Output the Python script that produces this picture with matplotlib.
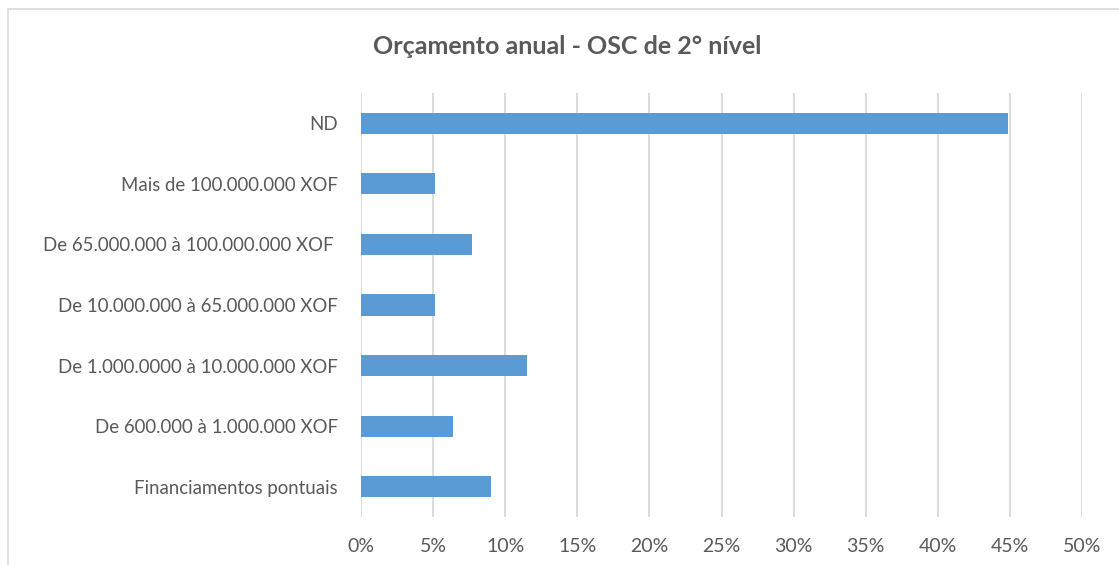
import matplotlib.pyplot as plt
from matplotlib.patches import Rectangle

categories = [
    "Financiamentos pontuais",
    "De 600.000 à 1.000.000 XOF",
    "De 1.000.0000 à 10.000.000 XOF",
    "De 10.000.000 à 65.000.000 XOF",
    "De 65.000.000 à 100.000.000 XOF ",
    "Mais de 100.000.000 XOF",
    "ND",
]
values = [9.0, 6.4, 11.5, 5.1, 7.7, 5.1, 44.9]
ticks = [0, 5, 10, 15, 20, 25, 30, 35, 40, 45, 50]
tick_labels = [f"{t}%" for t in ticks]

plt.rcParams["font.family"] = ["Lato", "DejaVu Sans"]
text_color = "#595959"
grid_color = "#d9d9d9"

fig = plt.figure(figsize=(11.19, 5.65), dpi=100)
ax = fig.add_axes([361 / 1119, 1 - 517 / 565, (1082 - 361) / 1119, (517 - 93) / 565])

# chart border (cropped on right and bottom)
fig.patches.append(Rectangle((8 / 1119, -0.5), 2.0, 1.5 - 9 / 565,
                             transform=fig.transFigure, fill=False,
                             edgecolor=grid_color, linewidth=1.2))

ax.barh(range(len(categories)), values, height=0.35, color="#5B9BD5", zorder=3)

ax.set_xlim(0, 50)
ax.set_ylim(-0.5, len(categories) - 0.5)
ax.set_xticks(ticks)
ax.set_xticklabels(tick_labels)
ax.set_yticks(range(len(categories)))
ax.set_yticklabels(categories)
ax.tick_params(axis="both", length=0, colors=text_color)
ax.tick_params(axis="x", pad=15, labelsize=14)
ax.tick_params(axis="y", pad=16.5, labelsize=13.4)
ax.grid(axis="x", color=grid_color, linewidth=1.3, zorder=0)
for s in ax.spines.values():
    s.set_visible(False)

fig.text(567 / 1119, 1 - 47 / 565, "Orçamento anual - OSC de 2° nível",
         ha="center", va="center", fontsize=18, fontweight="bold", color=text_color)

fig.savefig("out.png", dpi=100)
plt.close(fig)
